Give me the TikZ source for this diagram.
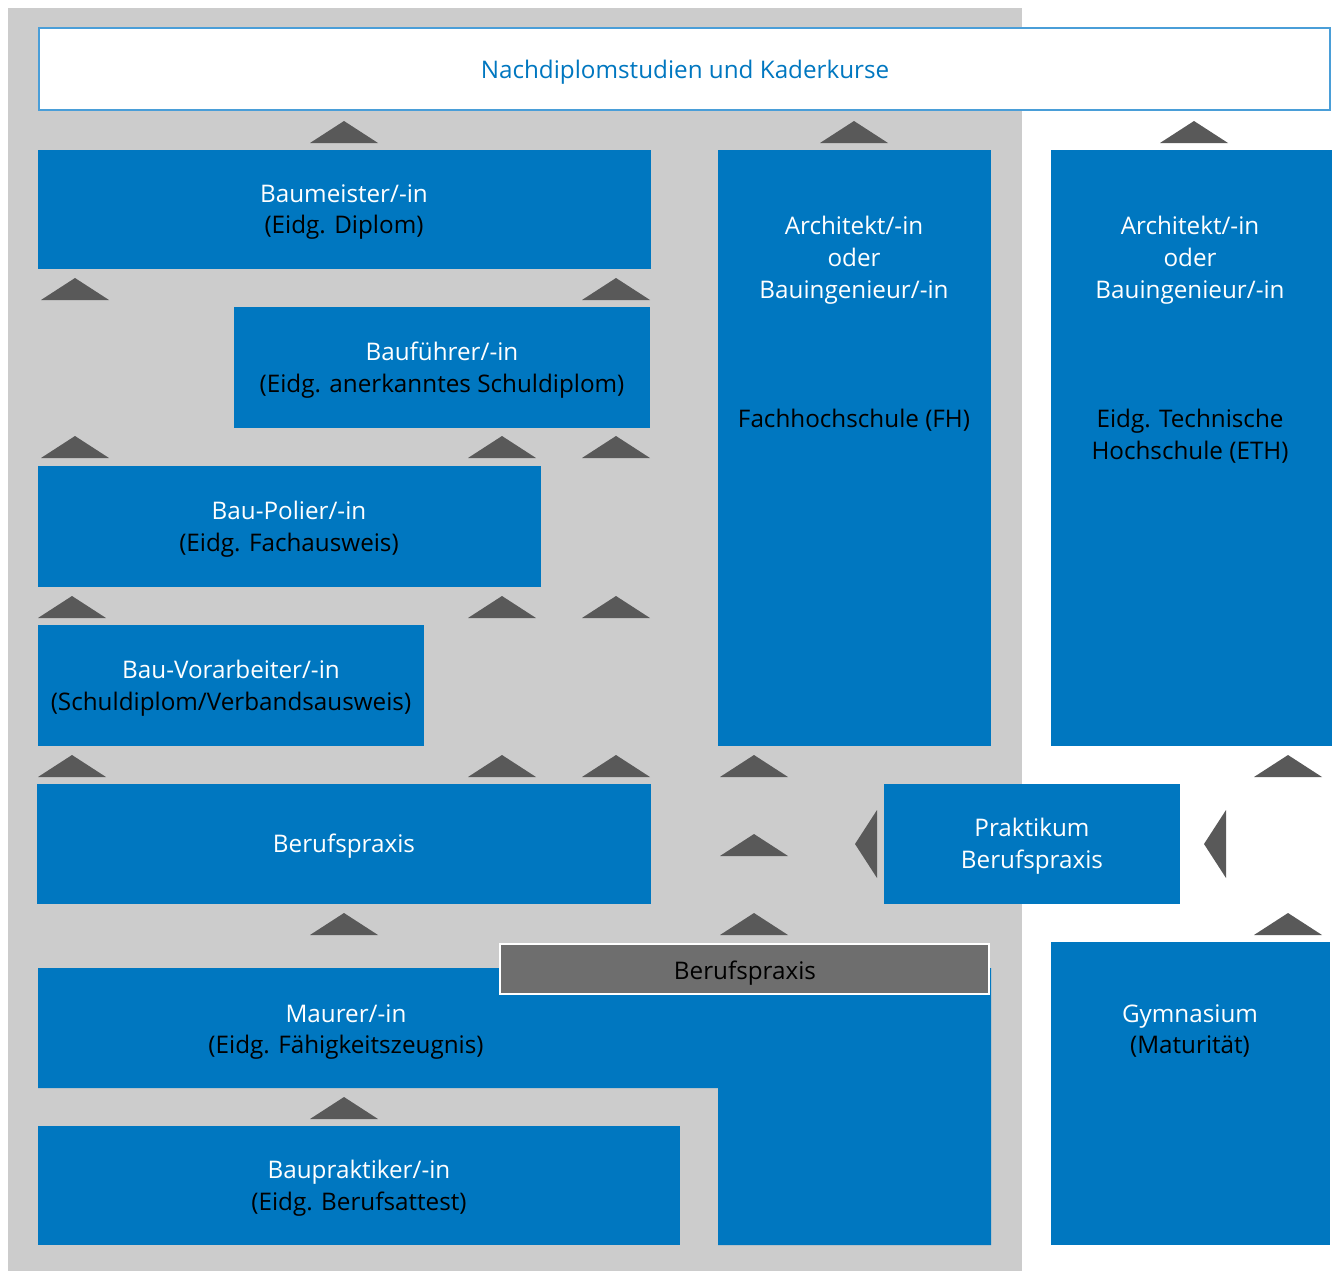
\documentclass[tikz,border=0pt]{standalone}
\usepackage{fontspec}
\setmainfont{Open Sans}
\usepackage{tikz}

\definecolor{bfblau}{RGB}{0,119,192}
\definecolor{rahmen}{RGB}{74,158,216}
\definecolor{hgrau}{RGB}{204,204,204}
\definecolor{pgrau}{RGB}{89,89,89}
\definecolor{kgrau}{RGB}{110,110,110}

% Pfeil nach oben, Spitze nach links
\newcommand{\auf}[2]{\fill[pfeil] ({#1-34},#2) -- (#1,{#2-22}) -- ({#1+34},#2) -- cycle;}
\newcommand{\links}[2]{\fill[pfeil] (#1,#2) -- ({#1+22},{#2-34}) -- ({#1+22},{#2+34}) -- cycle;}

\begin{document}
\begin{tikzpicture}[x=0.02cm,y=-0.02cm,
  blau/.style={fill=bfblau},
  pfeil/.style={fill=pgrau},
  txt/.style={text=white,align=center,inner sep=0pt,yshift=-0.06cm,font=\fontsize{13.8}{18.1}\selectfont}]
\useasboundingbox (0,0) rectangle (1339,1271);

\fill[hgrau] (8,8) rectangle (1022,1271);

% oben
\draw[rahmen,line width=1.2pt,fill=white] (39,28) rectangle (1330,110);
\node[txt,text=bfblau] (nds) at (685,69) {Nachdiplomstudien und Kaderkurse};

% Kaesten
\fill[blau] (38,150) rectangle (651,269);
\fill[blau] (234,307) rectangle (650,428);
\fill[blau] (38,466) rectangle (541,587);
\fill[blau] (38,625) rectangle (424,746);
\fill[blau] (37,784) rectangle (651,904);
\fill[blau] (38,968) -- (991,968) -- (991,1245) -- (718,1245) -- (718,1088) -- (38,1088) -- cycle;
\fill[blau] (38,1126) rectangle (680,1245);
\fill[blau] (718,150) rectangle (991,746);
\fill[blau] (1051,150) rectangle (1332,746);
\fill[blau] (884,784) rectangle (1180,904);
\fill[blau] (1051,942) rectangle (1330,1245);
\draw[white,line width=1.2pt,fill=kgrau] (500,944) rectangle (989,994);

% Pfeile
\foreach \x in {344,854,1194} {\auf{\x}{143}}
\foreach \x in {75,616} {\auf{\x}{300}}
\foreach \x in {75,502,616} {\auf{\x}{458}}
\foreach \x in {72,502,616} {\auf{\x}{618}}
\foreach \x in {72,502,616,754,1288} {\auf{\x}{777}}
\auf{754}{856}
\foreach \x in {344,754,1288} {\auf{\x}{935}}
\auf{344}{1119}
\links{855}{844}
\links{1204}{844}

% Texte
\node[txt] (baumeister) at (344,209) {Baumeister/-in\\\color{black}(Eidg. Diplom)};
\node[txt] (baufuehrer) at (442,367) {Bauführer/-in\\\color{black}(Eidg. anerkanntes Schuldiplom)};
\node[txt] (polier) at (289,526) {Bau-Polier/-in\\\color{black}(Eidg. Fachausweis)};
\node[txt] (vorarbeiter) at (231,685) {Bau-Vorarbeiter/-in\\\color{black}(Schuldiplom/Verbandsausweis)};
\node[txt] (praxis) at (344,843) {Berufspraxis};
\node[txt,text=black] (praxis2) at (745,970) {Berufspraxis};
\node[txt] (maurer) at (346,1029) {Maurer/-in\\\color{black}(Eidg. Fähigkeitszeugnis)};
\node[txt] (praktiker) at (359,1185) {Baupraktiker/-in\\\color{black}(Eidg. Berufsattest)};
\node[txt] (fh) at (854,257) {Architekt/-in\\oder\\Bauingenieur/-in};
\node[txt,text=black] (fhname) at (854,417) {Fachhochschule (FH)};
\node[txt] (eth) at (1190,257) {Architekt/-in\\oder\\Bauingenieur/-in};
\node[txt,text=black] (ethname) at (1190,433) {Eidg. Technische\\Hochschule (ETH)};
\node[txt] (praktikum) at (1032,843) {Praktikum\\Berufspraxis};
\node[txt] (gymi) at (1190,1028) {Gymnasium\\\color{black}(Maturität)};
\end{tikzpicture}
\end{document}
